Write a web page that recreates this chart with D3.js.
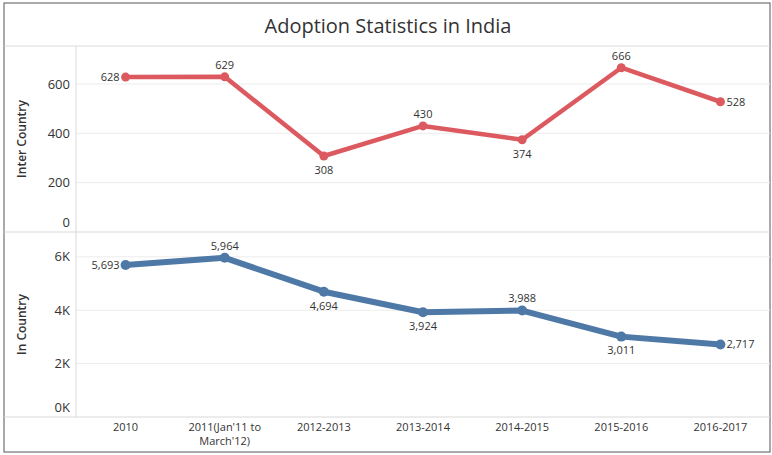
<!DOCTYPE html>
<html>
<head>
<meta charset="utf-8">
<script src="https://cdn.jsdelivr.net/npm/d3@7"></script>
<style>
  body { margin: 0; background: #fff; }
  text { font-family: "Open Sans", Lato, sans-serif; fill: #333; }
</style>
</head>
<body>
<svg id="chart" width="772" height="455"></svg>
<script>
const years = ['2010', "2011(Jan'11 to\nMarch'12)", '2012-2013', '2013-2014', '2014-2015', '2015-2016', '2016-2017'];
const interCountry = [628, 629, 308, 430, 374, 666, 528];
const inCountry = [5693, 5964, 4694, 3924, 3988, 3011, 2717];
const interTicks = [0, 200, 400, 600];
const inTicks = [0, 2000, 4000, 6000];
// where each value label sits relative to its point
const interLabelPos = ['left', 'top', 'bottom', 'top', 'bottom', 'top', 'right'];
const inLabelPos = ['left', 'top', 'bottom', 'bottom', 'top', 'bottom', 'right'];

const svg = d3.select('#chart');
const frame = { left: 4, right: 770, top: 3, bottom: 452 };
const paneLeft = 76;
const titleBottom = 46;
const split = 232;
const paneBottom = 417;

// outer frame
svg.append('rect')
    .attr('x', frame.left).attr('y', frame.top)
    .attr('width', frame.right - frame.left).attr('height', frame.bottom - frame.top)
    .attr('fill', 'none').attr('stroke', '#555').attr('stroke-width', 1);

svg.append('text')
    .attr('x', 388).attr('y', 33)
    .attr('text-anchor', 'middle')
    .style('font-size', '20px')
    .text('Adoption Statistics in India');

const xScale = d3.scalePoint()
    .domain(years)
    .range([paneLeft, frame.right])
    .padding(0.5);

function drawPane(cfg) {
  const y = d3.scaleLinear().domain([0, cfg.max]).range([cfg.bottom, cfg.top]);
  const g = svg.append('g');

  // gridlines
  g.selectAll('line.grid').data(cfg.ticks.filter(d => d > 0))
    .enter().append('line')
      .attr('x1', paneLeft).attr('x2', frame.right)
      .attr('y1', d => y(d)).attr('y2', d => y(d))
      .attr('stroke', '#ececec').attr('stroke-width', 1);

  // tick labels
  g.selectAll('text.tick').data(cfg.ticks)
    .enter().append('text')
      .attr('x', 70)
      .attr('y', d => Math.min(y(d), cfg.bottom - 10))
      .attr('dy', '0.35em')
      .attr('text-anchor', 'end')
      .style('font-size', '13px')
      .text(cfg.fmt);

  g.append('text')
      .attr('transform', `translate(26,${(cfg.top + cfg.bottom) / 2}) rotate(-90)`)
      .attr('text-anchor', 'middle')
      .style('font-size', '12px')
      .style('font-weight', 600)
      .text(cfg.title);

  const line = d3.line()
      .x((d, i) => xScale(years[i]))
      .y(d => y(d));

  g.append('path')
      .datum(cfg.values)
      .attr('d', line)
      .attr('fill', 'none')
      .attr('stroke', cfg.color)
      .attr('stroke-width', cfg.width)
      .attr('stroke-linejoin', 'round');

  g.selectAll('circle').data(cfg.values)
    .enter().append('circle')
      .attr('cx', (d, i) => xScale(years[i]))
      .attr('cy', d => y(d))
      .attr('r', cfg.r)
      .attr('fill', cfg.color);

  g.selectAll('text.val').data(cfg.values)
    .enter().append('text')
      .attr('x', (d, i) => {
        const x = xScale(years[i]);
        if (cfg.pos[i] === 'left') return x - 6;
        if (cfg.pos[i] === 'right') return x + 6;
        return x;
      })
      .attr('y', (d, i) => {
        const p = y(d);
        if (cfg.pos[i] === 'top') return p - 12;
        if (cfg.pos[i] === 'bottom') return p + 14;
        return p;
      })
      .attr('dy', '0.35em')
      .attr('text-anchor', (d, i) => cfg.pos[i] === 'left' ? 'end' : cfg.pos[i] === 'right' ? 'start' : 'middle')
      .style('font-size', '11px')
      .text(cfg.label);
}

drawPane({
  top: titleBottom, bottom: split, max: 754,
  ticks: interTicks, fmt: d3.format('d'),
  title: 'Inter Country', values: interCountry, pos: interLabelPos,
  color: '#dc5a5f', width: 4.5, r: 4.5, label: d3.format('d')
});

drawPane({
  top: split, bottom: paneBottom, max: 6930,
  ticks: inTicks, fmt: d => (d / 1000) + 'K',
  title: 'In Country', values: inCountry, pos: inLabelPos,
  color: '#4e79a7', width: 6, r: 5, label: d3.format(',')
});

// pane dividers
const dividers = [
  [frame.left, titleBottom, frame.right, titleBottom],
  [frame.left, split, frame.right, split],
  [frame.left, paneBottom, frame.right, paneBottom],
  [paneLeft, titleBottom, paneLeft, paneBottom]
];
svg.selectAll('line.div').data(dividers)
  .enter().append('line')
    .attr('x1', d => d[0]).attr('y1', d => d[1])
    .attr('x2', d => d[2]).attr('y2', d => d[3])
    .attr('stroke', '#d9d9d9').attr('stroke-width', 1);

// x axis labels, two-line one split on \n
const xLab = svg.append('g').selectAll('text').data(years)
  .enter().append('text')
    .attr('x', d => xScale(d))
    .attr('y', 431)
    .attr('text-anchor', 'middle')
    .style('font-size', '11px');
xLab.each(function(d) {
  d.split('\n').forEach((part, i) => {
    d3.select(this).append('tspan')
      .attr('x', xScale(d))
      .attr('dy', i === 0 ? 0 : 14)
      .text(part);
  });
});
</script>
</body>
</html>
